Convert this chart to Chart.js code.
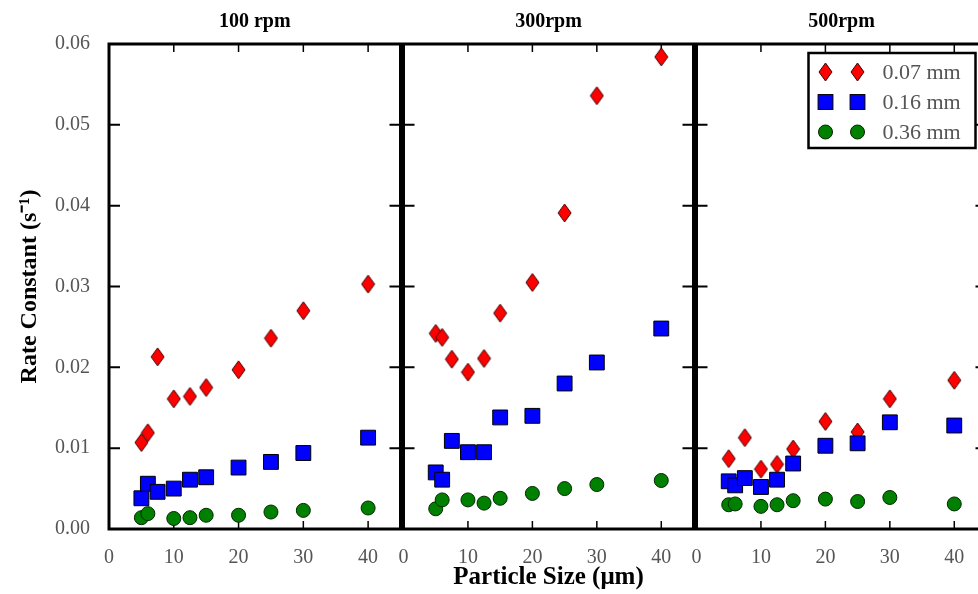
<!DOCTYPE html>
<html>
<head>
<meta charset="utf-8">
<script src="https://cdn.jsdelivr.net/npm/chart.js@4.4.0/dist/chart.umd.min.js"></script>
<style>
  body { margin: 0; background: #fff; }
  #wrap { position: relative; width: 978px; height: 594px; overflow: hidden; }
  canvas { position: absolute; top: 0; }
</style>
</head>
<body>
<div id="wrap">
  <canvas id="c100" width="412" height="594" style="left:0px"></canvas>
  <canvas id="c300" width="313" height="594" style="left:392px"></canvas>
  <canvas id="c500" width="313" height="594" style="left:685px"></canvas>
</div>
<script>
// particle sizes (um) on the x axis, shared by all panels
var sizes = [5, 6, 7.5, 10, 12.5, 15, 20, 25, 30, 40];
var xTicks = [0, 10, 20, 30, 40];
var yTicks = [0, 0.01, 0.02, 0.03, 0.04, 0.05, 0.06];
var panelTitles = ['100 rpm', '300rpm', '500rpm'];
var seriesNames = ['0.07 mm', '0.16 mm', '0.36 mm'];

// rate constants (1/s), null = no point
var k007_100 = [0.0107, 0.0119, 0.0213, 0.0161, 0.0164, 0.0175, 0.0197, 0.0236, 0.0270, 0.0303];
var k016_100 = [0.0038, 0.0056, 0.0046, 0.0050, 0.0061, 0.0064, 0.0076, 0.0083, 0.0094, 0.0113];
var k036_100 = [0.0014, 0.0019, null, 0.0013, 0.0014, 0.0017, 0.0017, 0.0021, 0.0023, 0.0026];

var k007_300 = [0.0242, 0.0237, 0.0210, 0.0194, 0.0211, 0.0267, 0.0305, 0.0391, 0.0536, 0.0584];
var k016_300 = [0.0070, 0.0061, 0.0109, 0.0095, 0.0095, 0.0138, 0.0140, 0.0180, 0.0206, 0.0248];
var k036_300 = [0.0025, 0.0036, null, 0.0036, 0.0032, 0.0038, 0.0044, 0.0050, 0.0055, 0.0060];

var k007_500 = [0.0087, null, 0.0113, 0.0074, 0.0080, 0.0099, 0.0133, 0.0120, 0.0161, 0.0184];
var k016_500 = [0.0059, 0.0054, 0.0063, 0.0052, 0.0061, 0.0081, 0.0103, 0.0106, 0.0132, 0.0128];
var k036_500 = [0.0030, 0.0031, null, 0.0028, 0.0030, 0.0035, 0.0037, 0.0034, 0.0039, 0.0031];

Chart.defaults.font.family = '"Liberation Serif", "Times New Roman", serif';

function makeDiamond(w, h, fill, edge) {
  var c = document.createElement('canvas');
  c.width = w; c.height = h;
  var g = c.getContext('2d');
  g.beginPath();
  g.moveTo(w / 2, 1);
  g.lineTo(w - 1, h / 2);
  g.lineTo(w / 2, h - 1);
  g.lineTo(1, h / 2);
  g.closePath();
  g.fillStyle = fill; g.fill();
  g.strokeStyle = edge; g.lineWidth = 1; g.stroke();
  return c;
}
var diamond = makeDiamond(15, 20, '#ff0000', '#400000');

function pts(vals) {
  return sizes.map(function(s, i) { return {x: s, y: vals[i]}; });
}

function makeData(red, blue, green) {
  return {
    datasets: [{
      label: seriesNames[0], data: pts(red),
      pointStyle: diamond, pointRadius: 8,
      backgroundColor: '#ff0000', borderColor: '#400000', pointBorderWidth: 1,
      order: 3
    }, {
      label: seriesNames[1], data: pts(blue),
      pointStyle: 'rect', pointRadius: 10.5,
      backgroundColor: '#0000ff', borderColor: '#000', pointBorderWidth: 1,
      order: 2
    }, {
      label: seriesNames[2], data: pts(green),
      pointStyle: 'circle', pointRadius: 7,
      backgroundColor: '#008000', borderColor: '#002800', pointBorderWidth: 1,
      order: 1
    }]
  };
}

// thick box round the plot area with inward ticks on every side
var framePlugin = {
  id: 'frame',
  beforeDatasetsDraw: function(chart) {
    var a = chart.chartArea, ctx = chart.ctx;
    var xs = chart.scales.x, ys = chart.scales.y;
    ctx.save();
    ctx.strokeStyle = '#000';
    ctx.lineWidth = 1.5;
    ctx.beginPath();
    xTicks.forEach(function(v) {
      var px = xs.getPixelForValue(v);
      ctx.moveTo(px, a.top); ctx.lineTo(px, a.top + 8);
      ctx.moveTo(px, a.bottom); ctx.lineTo(px, a.bottom - 8);
    });
    ctx.stroke();
    ctx.lineWidth = 2;
    ctx.beginPath();
    yTicks.forEach(function(v) {
      var py = ys.getPixelForValue(v);
      ctx.moveTo(a.left, py); ctx.lineTo(a.left + 11, py);
      ctx.moveTo(a.right, py); ctx.lineTo(a.right - 11, py);
    });
    ctx.stroke();
    ctx.lineWidth = 3;
    ctx.strokeRect(a.left, a.top, a.right - a.left, a.bottom - a.top);
    ctx.restore();
  }
};

function drawMarker(ctx, ds, x, y) {
  var st = ds.pointStyle;
  ctx.fillStyle = ds.backgroundColor;
  ctx.strokeStyle = ds.borderColor;
  ctx.lineWidth = 1;
  if (st === 'rect') {
    var s = ds.pointRadius * Math.SQRT1_2;
    ctx.fillRect(x - s, y - s, 2 * s, 2 * s);
    ctx.strokeRect(x - s, y - s, 2 * s, 2 * s);
  } else if (st === 'circle') {
    ctx.beginPath();
    ctx.arc(x, y, ds.pointRadius, 0, 2 * Math.PI);
    ctx.fill(); ctx.stroke();
  } else {
    ctx.drawImage(st, x - st.width / 2, y - st.height / 2);
  }
}

// matplotlib style legend box (two markers per row)
var boxLegend = {
  id: 'boxLegend',
  afterDraw: function(chart) {
    var a = chart.chartArea, ctx = chart.ctx;
    var w = 167, h = 95;
    var left = a.right - 178, top = a.top + 9;
    ctx.save();
    ctx.fillStyle = '#fff';
    ctx.fillRect(left, top, w, h);
    ctx.lineWidth = 2.5;
    ctx.strokeStyle = '#000';
    ctx.strokeRect(left, top, w, h);
    chart.data.datasets.forEach(function(ds, i) {
      var y = top + 19 + i * 30;
      drawMarker(ctx, ds, left + 17, y);
      drawMarker(ctx, ds, left + 49, y);
      ctx.font = '22px "Liberation Serif"';
      ctx.textBaseline = 'middle';
      ctx.fillStyle = '#555';
      ctx.fillText(ds.label, left + 74, y + 1);
    });
    ctx.restore();
  }
};

function makeOptions(idx) {
  var y = {
    type: 'linear', display: idx === 0, min: 0, max: 0.06,
    grid: { display: false },
    border: { display: false },
    ticks: {
      stepSize: 0.01, color: '#555', font: { size: 20 }, padding: 11,
      callback: function(v) { return v.toFixed(2); }
    },
    title: {
      display: true, text: 'Rate Constant (s\u207b\u00b9)', color: '#000',
      font: { size: 24, weight: 'bold' },
      padding: { top: 15, bottom: 0 }
    }
  };
  if (idx === 0) y.afterFit = function(s) { s.width = 109; };

  return {
    responsive: false,
    animation: false,
    events: [],
    layout: { padding: { left: idx === 0 ? 0 : 9, right: 8, top: 0, bottom: 0 } },
    plugins: {
      legend: { display: false },
      tooltip: { enabled: false },
      title: {
        display: true, text: panelTitles[idx], fullSize: false, color: '#000',
        font: { size: 20, weight: 'bold' },
        padding: { top: 10, bottom: 10 }
      }
    },
    scales: {
      x: {
        type: 'linear', min: 0, max: 45,
        grid: { display: false },
        border: { display: false },
        ticks: { stepSize: 10, includeBounds: false, color: '#555', font: { size: 20 }, padding: 9, maxRotation: 0 },
        title: {
          display: idx === 1, text: 'Particle Size (\u03bcm)', color: '#000',
          font: { size: 25, weight: 'bold' },
          padding: { top: 0, bottom: 1 }
        },
        afterFit: function(s) {
          s.height = 65;
          // panels butt against each other, so no extra room for edge labels
          s.paddingLeft = 0;
          s.paddingRight = 0;
        }
      },
      y: y
    }
  };
}

var chart100 = new Chart(document.getElementById('c100'), {
  type: 'scatter',
  data: makeData(k007_100, k016_100, k036_100),
  options: makeOptions(0),
  plugins: [framePlugin]
});
var chart300 = new Chart(document.getElementById('c300'), {
  type: 'scatter',
  data: makeData(k007_300, k016_300, k036_300),
  options: makeOptions(1),
  plugins: [framePlugin]
});
var chart500 = new Chart(document.getElementById('c500'), {
  type: 'scatter',
  data: makeData(k007_500, k016_500, k036_500),
  options: makeOptions(2),
  plugins: [framePlugin, boxLegend]
});
</script>
</body>
</html>
